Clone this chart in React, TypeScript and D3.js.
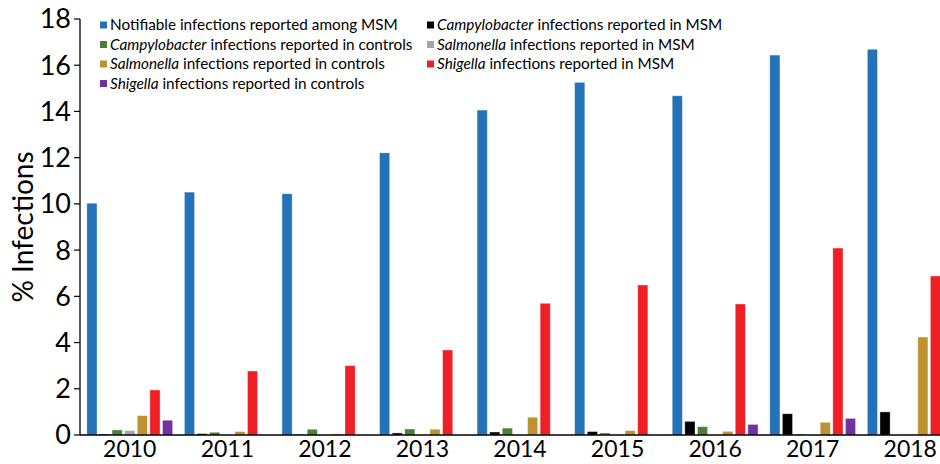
import React from "react";
import * as d3 from "d3";

// years on the x axis
const years = ["2010", "2011", "2012", "2013", "2014", "2015", "2016", "2017", "2018"];

// % infections per year
const notifiableMSM = [10.03, 10.51, 10.44, 12.21, 14.06, 15.26, 14.68, 16.44, 16.69];
const campyMSM = [0.04, 0.06, 0.02, 0.09, 0.13, 0.15, 0.59, 0.92, 1.0];
const campyControls = [0.22, 0.12, 0.25, 0.26, 0.3, 0.09, 0.36, 0.04, 0];
const salmMSM = [0.19, 0, 0, 0, 0, 0, 0, 0, 0];
const salmControls = [0.84, 0.15, 0.05, 0.25, 0.77, 0.19, 0.16, 0.55, 4.24];
const shigMSM = [1.95, 2.77, 3.0, 3.68, 5.7, 6.49, 5.67, 8.09, 6.88];
const shigControls = [0.64, 0, 0, 0, 0, 0, 0.46, 0.72, 0];

const yTicks = [0, 2, 4, 6, 8, 10, 12, 14, 16, 18];

// legend text: [italic genus, rest]
const series = [
  { key: "notif", genus: "", rest: "Notifiable infections reported among MSM", color: "#2473b8", values: notifiableMSM },
  { key: "campyM", genus: "Campylobacter", rest: " infections reported in MSM", color: "#000000", values: campyMSM },
  { key: "campyC", genus: "Campylobacter", rest: " infections reported in controls", color: "#4b8137", values: campyControls },
  { key: "salmM", genus: "Salmonella", rest: " infections reported in MSM", color: "#a5a5a5", values: salmMSM },
  { key: "salmC", genus: "Salmonella", rest: " infections reported in controls", color: "#be9232", values: salmControls },
  { key: "shigM", genus: "Shigella", rest: " infections reported in MSM", color: "#ee1f25", values: shigMSM },
  { key: "shigC", genus: "Shigella", rest: " infections reported in controls", color: "#7131a1", values: shigControls },
];

const W = 940;
const H = 464;
const FONT = "Lato, 'Open Sans', sans-serif";

export default function App() {
  const x0 = d3.scaleBand<string>().domain(years).range([80, 960]).paddingInner(0.12).paddingOuter(0.07);
  const x1 = d3
    .scaleBand<string>()
    .domain(series.map((s) => s.key))
    .range([0, x0.bandwidth()])
    .paddingInner(0.19);
  const y = d3.scaleLinear().domain([0, 18]).range([435, 19]);

  return (
    <svg
      width={W}
      height={H}
      style={{ position: "absolute", left: 0, top: 0, background: "#fff" }}
      fontFamily={FONT}
    >
      {/* bars */}
      {years.map((yr, i) => (
        <g key={yr} transform={`translate(${x0(yr)},0)`}>
          {series.map((s) =>
            s.values[i] > 0 ? (
              <rect
                key={s.key}
                x={x1(s.key)}
                y={y(s.values[i])}
                width={x1.bandwidth()}
                height={y(0) - y(s.values[i])}
                fill={s.color}
                stroke="#ffffff"
                strokeOpacity={0.5}
                strokeWidth={0.8}
              />
            ) : null
          )}
        </g>
      ))}

      {/* y axis */}
      <line x1={80} x2={80} y1={y(18)} y2={y(0)} stroke="#000" strokeWidth={1.3} />
      {yTicks.map((t) => (
        <g key={t}>
          <line x1={74} x2={80} y1={y(t)} y2={y(t)} stroke="#000" strokeWidth={1.2} />
          <text x={71} y={y(t)} dy="0.35em" textAnchor="end" fontSize={27} fill="#000">
            {t}
          </text>
        </g>
      ))}
      <text
        transform={`translate(33,${(y(0) + y(18)) / 2}) rotate(-90)`}
        textAnchor="middle"
        fontSize={28}
        fill="#000"
      >
        % Infections
      </text>

      {/* x axis */}
      <line x1={80} x2={W} y1={y(0)} y2={y(0)} stroke="#000" strokeWidth={1.5} />
      {years.map((yr) => (
        <text
          key={yr}
          x={(x0(yr) as number) + x0.bandwidth() / 2}
          y={457}
          textAnchor="middle"
          fontSize={23}
          fill="#000"
        >
          {yr}
        </text>
      ))}

      {/* legend, two columns filled row-wise */}
      {series.map((s, i) => {
        const col = i % 2;
        const row = Math.floor(i / 2);
        const lx = col === 0 ? 100 : 427;
        const ly = 25 + row * 19.5;
        return (
          <g key={s.key} transform={`translate(${lx},${ly})`}>
            <rect x={0} y={-3.5} width={7} height={7} fill={s.color} />
            <text x={10} y={0} dy="0.35em" fontSize={15.3} fill="#000">
              {s.genus ? <tspan fontStyle="italic">{s.genus}</tspan> : null}
              <tspan>{s.rest}</tspan>
            </text>
          </g>
        );
      })}
    </svg>
  );
}
